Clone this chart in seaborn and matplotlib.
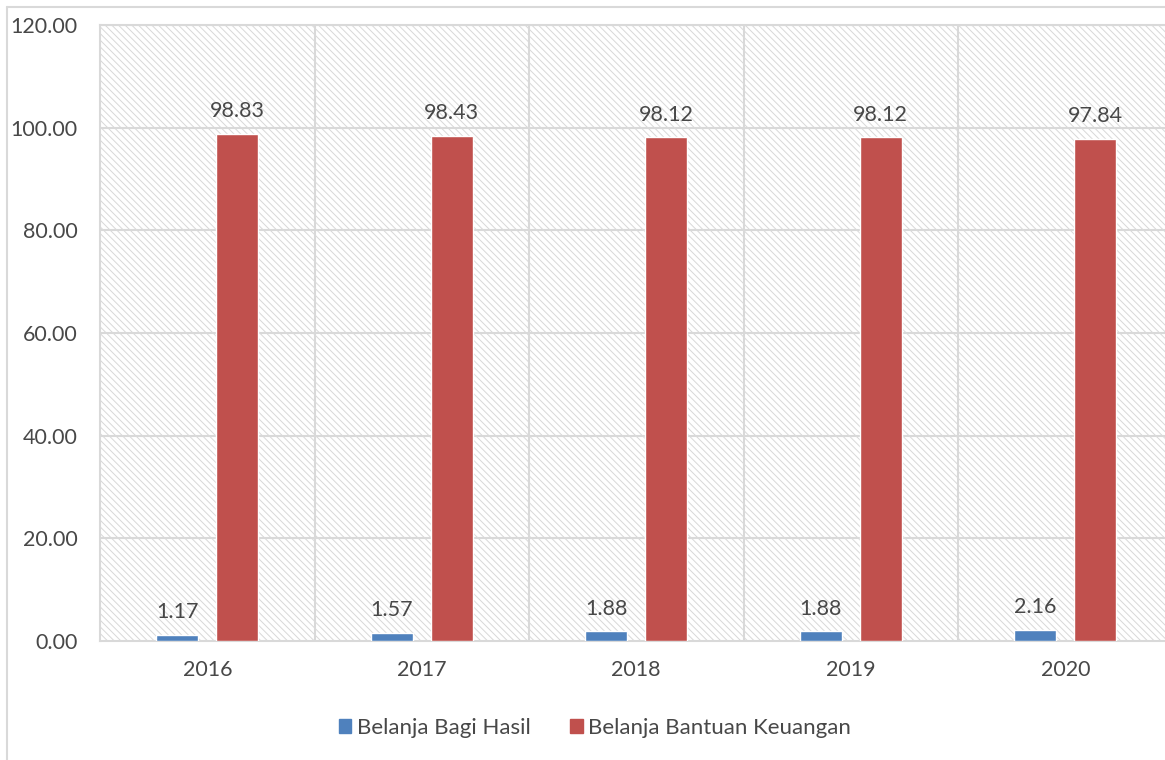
import pandas as pd
import matplotlib.pyplot as plt
import seaborn as sns
from matplotlib.patches import Rectangle
from matplotlib.lines import Line2D

years = ['2016', '2017', '2018', '2019', '2020']
bagi_hasil = [1.17, 1.57, 1.88, 1.88, 2.16]
bantuan_keuangan = [98.83, 98.43, 98.12, 98.12, 97.84]
series_names = ['Belanja Bagi Hasil', 'Belanja Bantuan Keuangan']
colors = ['#4F81BD', '#C0504D']

data = pd.DataFrame({
    'Tahun': years * 2,
    'Nilai': bagi_hasil + bantuan_keuangan,
    'Jenis': [series_names[0]] * 5 + [series_names[1]] * 5,
})

sns.set_style('white')
plt.rcParams['font.family'] = ['Lato', 'DejaVu Sans']
plt.rcParams['hatch.linewidth'] = 0.7
text_color = '#484848'
grid_color = '#d9d9d9'

W, H = 1165, 760
fig = plt.figure(figsize=(W / 100, H / 100), dpi=100)
ax = fig.add_axes([100 / W, (H - 641) / H, 1072.5 / W, 616 / H])

# hatched plot area background
ax.add_patch(Rectangle((0, 0), 1, 1, transform=ax.transAxes, facecolor='white',
                       edgecolor='#d8d8d8', hatch='\\\\\\\\\\', lw=0, zorder=0))

sns.barplot(data=data, x='Tahun', y='Nilai', hue='Jenis', palette=colors,
            width=0.56, gap=0.3, saturation=1, ax=ax, zorder=3)

ax.set_ylim(0, 120)
ax.set_xlim(-0.5, 4.5)
ax.set_yticks(range(0, 121, 20))
ax.set_yticklabels([f'{v:.2f}' for v in range(0, 121, 20)])
for y in range(20, 121, 20):
    ax.axhline(y, color=grid_color, lw=1.5, zorder=1)
for x in [0.5, 1.5, 2.5, 3.5]:
    ax.axvline(x, color=grid_color, lw=1.5, zorder=1)
for side in ['top', 'right', 'left', 'bottom']:
    ax.spines[side].set_color(grid_color)
    ax.spines[side].set_linewidth(1.5)

ax.tick_params(axis='both', length=0, labelsize=15.5, labelcolor=text_color)
ax.tick_params(axis='x', pad=14)
ax.tick_params(axis='y', pad=16)
ax.set_xlabel('')
ax.set_ylabel('')

for cont in ax.containers:
    ax.bar_label(cont, fmt='%.2f', padding=9, fontsize=15.5, color=text_color)

handles = [Rectangle((0, 0), 1, 1, color=c) for c in colors]
ax.legend(handles, series_names, loc='center', bbox_to_anchor=(595 / W, (H - 728) / H),
          bbox_transform=fig.transFigure, ncol=2, frameon=False, fontsize=16,
          handlelength=0.55, handleheight=0.55, handletextpad=0.25, columnspacing=1.8,
          labelcolor=text_color)

# chart border
fig.add_artist(Line2D([7 / W, 7 / W], [0, 1 - 7 / H], color=grid_color, lw=1.5))
fig.add_artist(Line2D([7 / W, 1], [1 - 7 / H, 1 - 7 / H], color=grid_color, lw=1.5))

fig.savefig('out.png', dpi=100)
